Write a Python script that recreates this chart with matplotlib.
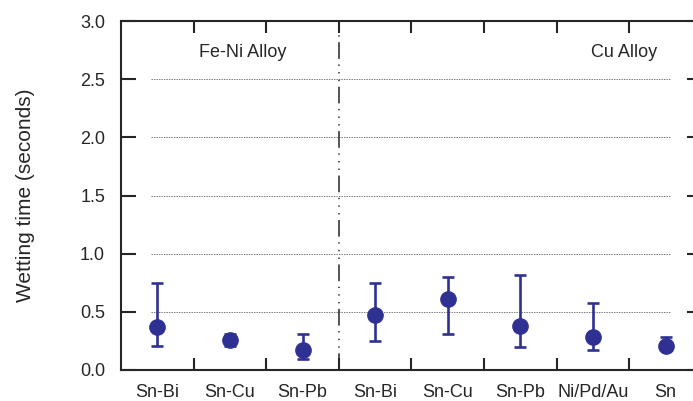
import matplotlib
matplotlib.use("Agg")
import matplotlib.pyplot as plt
from matplotlib.ticker import FixedLocator, NullFormatter

plt.rcParams["font.family"] = ["Liberation Sans", "DejaVu Sans"]
plt.rcParams["lines.scale_dashes"] = False

# Wetting time per solder finish, two base alloys side by side
CATEGORIES = ["Sn-Bi", "Sn-Cu", "Sn-Pb", "Sn-Bi", "Sn-Cu", "Sn-Pb", "Ni/Pd/Au", "Sn"]
MEAN = [0.37, 0.26, 0.17, 0.47, 0.61, 0.38, 0.28, 0.21]
UPPER = [0.75, 0.31, 0.31, 0.745, 0.80, 0.82, 0.58, 0.285]
LOWER = [0.21, 0.21, 0.095, 0.245, 0.31, 0.20, 0.17, 0.17]
GROUPS = ["Fe-Ni Alloy", "Cu Alloy"]
GRID_LEVELS = [0.5, 1.0, 1.5, 2.0, 2.5]
Y_TICKS = [0.0, 0.5, 1.0, 1.5, 2.0, 2.5, 3.0]

BLUE = "#2e3192"
INK = "#262626"

fig = plt.figure(figsize=(6.93, 4.01), dpi=100)
ax = fig.add_axes([121 / 693, 31 / 401, 581 / 693, 349 / 401])

xs = list(range(len(CATEGORIES)))
err = [[m - lo for m, lo in zip(MEAN, LOWER)],
       [hi - m for m, hi in zip(MEAN, UPPER)]]

ax.hlines(GRID_LEVELS, -0.09, 7.08, colors="#777777", linewidth=0.7,
          linestyles=(0, (1.0, 0.8)), zorder=1)

# split between the two alloy groups
ax.axvline(2.5, color=INK, linewidth=1.1,
           linestyle=(0, (12, 4, 1.0, 4.5, 1.0, 4.5, 1.0, 4)), zorder=2)

ax.errorbar(xs, MEAN, yerr=err, fmt="o", color=BLUE, ecolor=BLUE,
            markersize=11, elinewidth=1.9, capsize=4.3, capthick=1.9,
            zorder=3)

ax.text(1.17, 2.73, GROUPS[0], ha="center", va="center", fontsize=13, color=INK)
ax.text(6.43, 2.73, GROUPS[1], ha="center", va="center", fontsize=13, color=INK)

ax.set_xlim(-0.5, 7.5)
ax.set_ylim(0, 3.0)

ax.xaxis.set_major_locator(FixedLocator(xs))
ax.set_xticklabels(CATEGORIES)
ax.xaxis.set_minor_locator(FixedLocator([i + 0.5 for i in xs[:-1]]))
ax.xaxis.set_minor_formatter(NullFormatter())
ax.tick_params(axis="x", which="major", length=0, pad=10, labelsize=13,
               labelcolor=INK)
ax.tick_params(axis="x", which="minor", direction="in", length=8.5,
               width=1.5, color=INK, top=True, bottom=True)

ax.set_yticks(Y_TICKS)
ax.set_yticklabels([f"{v:.1f}" for v in Y_TICKS])
ax.tick_params(axis="y", direction="in", length=10.8, width=1.5, color=INK,
               left=True, right=True, pad=11.5, labelsize=13, labelcolor=INK)

for side in ax.spines.values():
    side.set_linewidth(1.5)
    side.set_color(INK)

ax.set_ylabel("Wetting time (seconds)", fontsize=15, color=INK)
ax.yaxis.set_label_coords(-0.148, 0.5)

fig.savefig("out.png", dpi=100)
